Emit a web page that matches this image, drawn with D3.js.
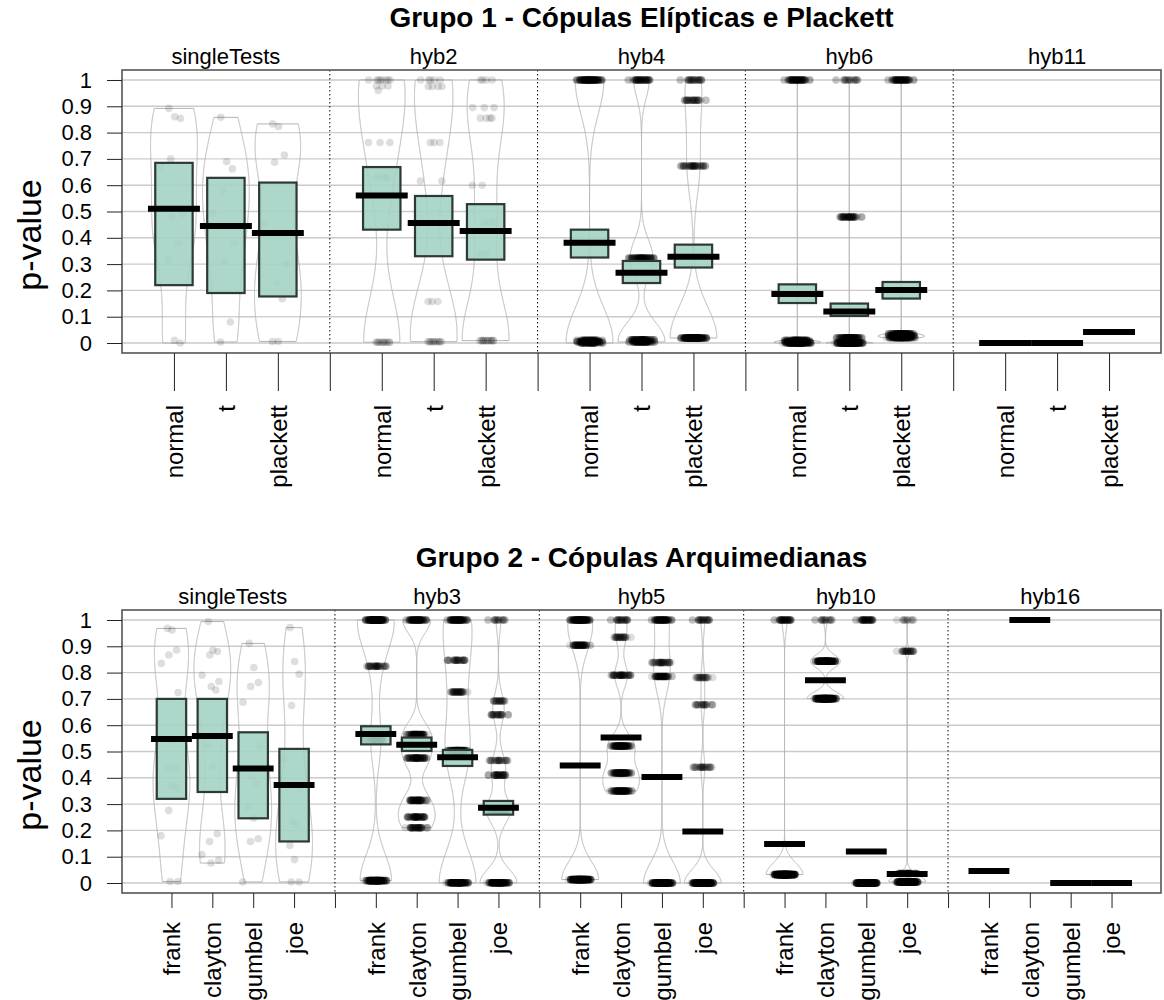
<!DOCTYPE html>
<html>
<head>
<meta charset="utf-8">
<script src="https://cdn.jsdelivr.net/npm/d3@7"></script>
<style>
body { margin: 0; background: #fff; }
text { font-family: "Liberation Sans", Arial, sans-serif; fill: #000; }
</style>
</head>
<body>
<svg id="chart" width="1164" height="1000"></svg>
<script>
// y axis ticks, shared by both panels
const yTicks = [0, 0.1, 0.2, 0.3, 0.4, 0.5, 0.6, 0.7, 0.8, 0.9, 1];
const yTickLabels = ["0", "0.1", "0.2", "0.3", "0.4", "0.5", "0.6", "0.7", "0.8", "0.9", "1"];

// ---- Grupo 1 ----
const groups1 = ["singleTests", "hyb2", "hyb4", "hyb6", "hyb11"];
const copulas1 = ["normal", "t", "plackett"];
// mean line of every bean
const means1 = [
  [0.51, 0.445, 0.418],
  [0.561, 0.456, 0.426],
  [0.381, 0.267, 0.328],
  [0.186, 0.12, 0.202],
  [0.0, 0.0, 0.042]
];
// HDI band (null = not drawn)
const hdiLo1 = [
  [0.22, 0.19, 0.177],
  [0.431, 0.33, 0.317],
  [0.325, 0.228, 0.287],
  [0.152, 0.103, 0.169],
  [null, null, null]
];
const hdiHi1 = [
  [0.685, 0.628, 0.61],
  [0.669, 0.559, 0.528],
  [0.431, 0.312, 0.374],
  [0.223, 0.15, 0.232],
  [null, null, null]
];
// raw p-values as [value, count]
const points1 = [
  [
    [[0.892,1],[0.86,1],[0.854,1],[0.70,1],[0.67,1],[0.49,1],[0.48,1],[0.38,1],[0.316,1],[0.01,1],[0.0,1]],
    [[0.858,1],[0.69,1],[0.662,1],[0.58,1],[0.494,1],[0.38,1],[0.31,1],[0.08,1],[0.004,1]],
    [[0.833,1],[0.823,1],[0.715,1],[0.687,1],[0.453,1],[0.30,1],[0.23,1],[0.168,1],[0.006,2]]
  ],
  [
    [[1,8],[0.977,3],[0.96,1],[0.762,3],[0.629,4],[0.003,11]],
    [[1,5],[0.975,4],[0.762,3],[0.616,2],[0.158,3],[0.005,11]],
    [[1,4],[0.895,3],[0.855,4],[0.6,2],[0.459,3],[0.34,2],[0.009,13]]
  ],
  [
    [[1,114],[0.01,60],[0.005,66],[0.0,60]],
    [[1,54],[0.323,81],[0.012,80],[0.004,85]],
    [[1,32],[0.923,35],[0.673,48],[0.019,185]]
  ],
  [
    [[1,74],[0.01,76],[0.005,100],[0.0,150]],
    [[1,22],[0.479,52],[0.02,100],[0.0,226]],
    [[1,71],[0.035,100],[0.027,129],[0.02,100]]
  ],
  [[], [], []]
];
// kernel bandwidth of each bean (0 = no bean)
const bw1 = [
  [0.15, 0.15, 0.15],
  [0.18, 0.18, 0.16],
  [0.13, 0.07, 0.12],
  [0.005, 0.005, 0.005],
  [0, 0, 0]
];

// ---- Grupo 2 ----
const groups2 = ["singleTests", "hyb3", "hyb5", "hyb10", "hyb16"];
const copulas2 = ["frank", "clayton", "gumbel", "joe"];
const means2 = [
  [0.548, 0.559, 0.435, 0.373],
  [0.567, 0.526, 0.478, 0.286],
  [0.447, 0.553, 0.403, 0.196],
  [0.148, 0.771, 0.12, 0.034],
  [0.046, 1.0, 0.0, 0.0]
];
const hdiLo2 = [
  [0.32, 0.346, 0.246, 0.158],
  [0.527, 0.502, 0.445, 0.26],
  [0.442, 0.548, 0.398, 0.191],
  [0.144, 0.767, 0.116, 0.031],
  [null, null, null, null]
];
const hdiHi2 = [
  [0.70, 0.70, 0.573, 0.51],
  [0.596, 0.553, 0.506, 0.312],
  [0.452, 0.558, 0.408, 0.201],
  [0.152, 0.775, 0.124, 0.037],
  [null, null, null, null]
];
const points2 = [
  [
    [[0.968,1],[0.962,1],[0.886,1],[0.867,1],[0.835,1],[0.724,1],[0.544,1],[0.437,2],[0.37,1],[0.36,1],[0.276,1],[0.18,1],[0.006,2]],
    [[0.994,1],[0.886,1],[0.88,1],[0.867,1],[0.79,1],[0.766,1],[0.747,1],[0.734,1],[0.523,1],[0.443,1],[0.187,1],[0.158,1],[0.108,1],[0.086,1],[0.076,1]],
    [[0.911,1],[0.819,1],[0.762,1],[0.747,1],[0.687,1],[0.52,1],[0.40,1],[0.376,1],[0.287,1],[0.247,1],[0.168,1],[0.158,1],[0.004,1]],
    [[0.971,1],[0.842,1],[0.794,1],[0.675,1],[0.472,1],[0.36,1],[0.234,1],[0.22,1],[0.143,1],[0.089,1],[0.004,2]]
  ],
  [
    [[1,164],[0.824,40],[0.545,48],[0.009,148]],
    [[1,88],[0.564,80],[0.475,70],[0.314,60],[0.251,57],[0.21,45]],
    [[1,90],[0.847,35],[0.726,40],[0.504,90],[0.001,145]],
    [[1,20],[0.692,25],[0.64,30],[0.466,30],[0.41,40],[0.276,100],[0.001,155]]
  ],
  [
    [[1,120],[0.904,60],[0.013,220]],
    [[1,30],[0.934,30],[0.79,50],[0.521,100],[0.418,100],[0.35,90]],
    [[1,80],[0.838,40],[0.785,60],[0.0,220]],
    [[1,30],[0.781,25],[0.678,25],[0.44,30],[0.0,290]]
  ],
  [
    [[1,48],[0.032,352]],
    [[1,20],[0.843,170],[0.701,210]],
    [[1,48],[0.0,352]],
    [[1,12],[0.881,30],[0.036,60],[0.004,300]]
  ],
  [[], [], [], []]
];
const bw2 = [
  [0.15, 0.15, 0.15, 0.15],
  [0.1, 0.05, 0.12, 0.05],
  [0.07, 0.045, 0.08, 0.05],
  [0.045, 0.025, 0, 0.02],
  [0, 0, 0, 0]
];

const svg = d3.select("#chart");
const boxLeft = 122, boxRight = 1161, boxH = 283;

// density outline of one bean, cut at the data range
function beanShape(clusters, bw) {
  let lo = d3.min(clusters, c => c[0]), hi = d3.max(clusters, c => c[0]);
  let grid = d3.range(0, 801).map(i => lo + (hi - lo) * i / 800);
  let dens = grid.map(function(v) {
    return {v: v, d: d3.sum(clusters, c => c[1] * Math.exp(-0.5 * Math.pow((v - c[0]) / bw, 2)))};
  });
  let m = d3.max(dens, d => d.d);
  dens.forEach(d => d.w = 0.45 * d.d / m);
  return dens;
}

function drawPanel(p) {
  let top = p.top, bottom = top + boxH;
  let nc = p.copulas.length, ng = p.groups.length;
  let nPos = ng * (nc + 1);

  let x = d3.scaleLinear().domain(p.xDomain).range([boxLeft, boxRight]);
  let y = d3.scaleLinear().domain([-0.038, 1.038]).range([bottom, top]);

  let g = svg.append("g");

  // title
  g.append("text")
    .attr("x", (boxLeft + boxRight) / 2).attr("y", top - 43)
    .attr("text-anchor", "middle")
    .style("font-size", "28px").style("font-weight", "bold")
    .text(p.title);

  // horizontal grid
  g.selectAll(".grid").data(yTicks).enter().append("line")
    .attr("x1", boxLeft).attr("x2", boxRight)
    .attr("y1", d => y(d)).attr("y2", d => y(d))
    .attr("stroke", "#cacaca").attr("stroke-width", 1.4);

  // facet labels
  g.selectAll(".facet").data(p.groups).enter().append("text")
    .attr("x", (d, i) => x(i * (nc + 1) + (nc + 1) / 2))
    .attr("y", top - 6)
    .attr("text-anchor", "middle")
    .style("font-size", "22px")
    .text(d => d);

  p.groups.forEach(function(grp, gi) {
    p.copulas.forEach(function(cop, ci) {
      let pos = gi * (nc + 1) + ci + 1;
      let pts = p.points[gi][ci];
      let bw = p.bw[gi][ci];

      // bean
      if (pts.length > 0 && bw > 0) {
        let shape = beanShape(pts, bw);
        let beanArea = d3.area()
          .y(d => y(d.v))
          .x0(d => x(pos - d.w))
          .x1(d => x(pos + d.w));
        g.append("path")
          .attr("d", beanArea(shape))
          .attr("fill", "#fff").attr("fill-opacity", 0.15)
          .attr("stroke", "#b4b4b4").attr("stroke-width", 1);
      }

      // jittered points (triangular spread around the bean centre)
      let idx = 0, flat = [];
      pts.forEach(function(c) {
        for (let k = 0; k < c[1]; k++) {
          idx++;
          let u1 = (idx * 0.6180339887) % 1, u2 = (idx * 0.7548776662 + 0.3) % 1;
          flat.push({v: c[0], j: (u1 + u2 - 1) * 0.3});
        }
      });
      g.append("g").selectAll("circle").data(flat).enter().append("circle")
        .attr("cx", d => x(pos + d.j))
        .attr("cy", d => y(d.v))
        .attr("r", 3.8)
        .attr("fill", "#000").attr("fill-opacity", 0.13);

      // HDI band
      let lo = p.lo[gi][ci], hi = p.hi[gi][ci];
      if (lo !== null) {
        g.append("rect")
          .attr("x", x(pos - 0.36)).attr("width", x(pos + 0.36) - x(pos - 0.36))
          .attr("y", y(hi)).attr("height", y(lo) - y(hi))
          .attr("fill", "#a2d1c3").attr("fill-opacity", 0.88)
          .attr("stroke", "#2d3935").attr("stroke-width", 2.2);
      }

      // mean line
      g.append("line")
        .attr("x1", x(pos - 0.5)).attr("x2", x(pos + 0.5))
        .attr("y1", y(p.means[gi][ci])).attr("y2", y(p.means[gi][ci]))
        .attr("stroke", "#000").attr("stroke-width", 6);
    });
  });

  // dotted group separators
  let seps = d3.range(1, ng).map(i => i * (nc + 1));
  g.selectAll(".sep").data(seps).enter().append("line")
    .attr("x1", d => x(d)).attr("x2", d => x(d))
    .attr("y1", top).attr("y2", bottom)
    .attr("stroke", "#000").attr("stroke-width", 1)
    .attr("stroke-dasharray", "1.5,2.5");

  // frame
  g.append("rect")
    .attr("x", boxLeft).attr("y", top)
    .attr("width", boxRight - boxLeft).attr("height", boxH)
    .attr("fill", "none").attr("stroke", "#555").attr("stroke-width", 1.6);

  // y axis
  let yAxis = d3.axisLeft(y).tickValues(yTicks)
    .tickFormat((d, i) => yTickLabels[i]).tickSize(15).tickPadding(15);
  let ya = g.append("g").attr("transform", "translate(" + boxLeft + ",0)").call(yAxis);
  ya.select(".domain").remove();
  ya.selectAll("text").style("font-size", "22px").attr("fill", "#000");
  ya.selectAll("line").attr("stroke", "#222");

  // x axis: ticks at every slot, labels only under beans
  let slots = d3.range(1, nPos);
  let labelOf = function(s) {
    let r = s % (nc + 1);
    return r === 0 ? "" : p.copulas[r - 1];
  };
  let xAxis = d3.axisBottom(x).tickValues(slots).tickFormat(labelOf).tickSize(p.tickLen).tickPadding(0);
  let xa = g.append("g").attr("transform", "translate(0," + bottom + ")").call(xAxis);
  xa.select(".domain").remove();
  xa.selectAll("line").attr("stroke", "#222");
  xa.selectAll("text")
    .style("font-size", "24px").attr("fill", "#000")
    .attr("text-anchor", "end")
    .attr("dy", "0.35em")
    .attr("transform", "translate(0," + p.labelGap + ") rotate(-90)")
    .attr("x", 0).attr("y", 0);

  // y label
  g.append("text")
    .attr("transform", "translate(41," + (top + 165) + ") rotate(-90)")
    .attr("text-anchor", "middle")
    .style("font-size", "34px")
    .text("p-value");
}

drawPanel({
  top: 70, title: "Grupo 1 - Cópulas Elípticas e Plackett",
  groups: groups1, copulas: copulas1, means: means1, lo: hdiLo1, hi: hdiHi1,
  points: points1, bw: bw1, xDomain: [0, 20], tickLen: 38, labelGap: 52
});
drawPanel({
  top: 610, title: "Grupo 2 - Cópulas Arquimedianas",
  groups: groups2, copulas: copulas2, means: means2, lo: hdiLo2, hi: hdiHi2,
  points: points2, bw: bw2, xDomain: [-0.21, 25.21], tickLen: 15, labelGap: 29
});
</script>
</body>
</html>
